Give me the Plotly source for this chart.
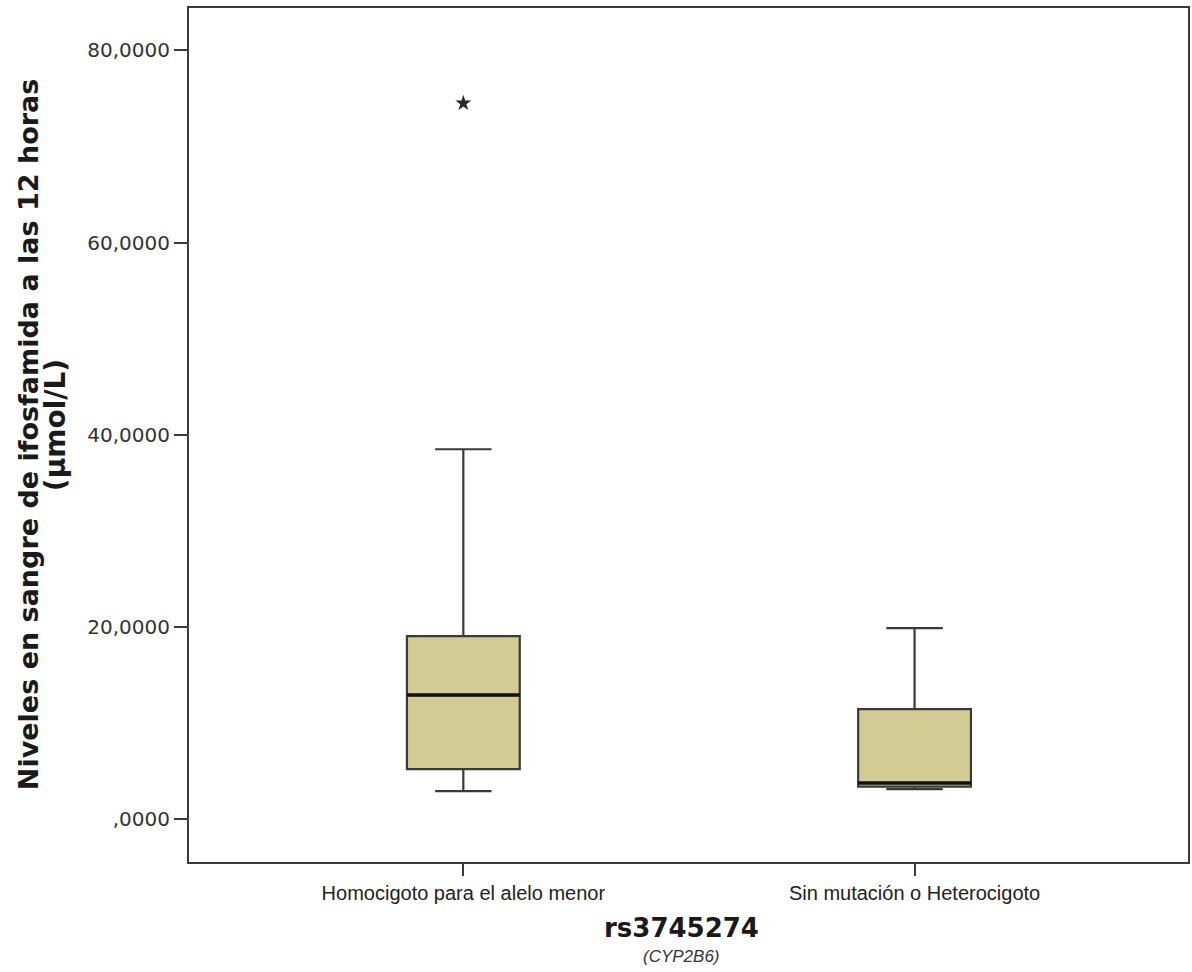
import plotly.graph_objects as go

# Grupos genotípicos (rs3745274, CYP2B6)
categorias = ["Homocigoto para el alelo menor", "Sin mutación o Heterocigoto"]
posiciones = [0, 1]

# Estadísticos de caja: niveles de ifosfamida a las 12 h (µmol/L)
bigote_inf = [2.94, 3.15]
q1 = [5.23, 3.41]
mediana = [12.93, 3.78]
q3 = [19.06, 11.47]
bigote_sup = [38.5, 19.88]

# Valor extremo (marcado con asterisco)
extremo_x = [0]
extremo_y = [74.5]

ticks_y = [0, 20, 40, 60, 80]
etiquetas_y = [",0000", "20,0000", "40,0000", "60,0000", "80,0000"]

ancho_caja = 0.25
gris = "#3a3a3a"

fig = go.Figure()

fig.add_trace(go.Box(
    x=posiciones,
    q1=q1, median=mediana, q3=q3,
    lowerfence=bigote_inf, upperfence=bigote_sup,
    width=ancho_caja,
    whiskerwidth=0.5,
    fillcolor="#D2CC94",
    line=dict(color=gris, width=2.2),
    boxpoints=False,
    hoverinfo="skip",
    showlegend=False,
))

# Línea de la mediana más gruesa, sobre cada caja
mx, my = [], []
for p, m in zip(posiciones, mediana):
    mx += [p - ancho_caja / 2, p + ancho_caja / 2, None]
    my += [m, m, None]
fig.add_trace(go.Scatter(
    x=mx, y=my, mode="lines",
    line=dict(color="#111111", width=3.5),
    hoverinfo="skip", showlegend=False,
))

fig.add_trace(go.Scatter(
    x=extremo_x, y=extremo_y, mode="markers",
    marker=dict(symbol="star", size=12, color="#2a2a2a"),
    hoverinfo="skip", showlegend=False,
))

fig.update_layout(
    width=1192, height=972,
    margin=dict(l=189, r=2, t=8, b=110),
    paper_bgcolor="white", plot_bgcolor="white",
    xaxis=dict(
        range=[-0.608, 1.606],
        tickmode="array", tickvals=posiciones, ticktext=categorias,
        showgrid=False, zeroline=False,
        showline=True, mirror=True, linecolor=gris, linewidth=2,
        ticks="outside", ticklen=12, tickwidth=2, tickcolor=gris,
        tickfont=dict(family="Liberation Sans Narrow, Liberation Sans, Arial", size=20, color="#222222"),
    ),
    yaxis=dict(
        range=[-4.44, 84.4],
        tickmode="array", tickvals=ticks_y, ticktext=etiquetas_y,
        showgrid=False, zeroline=False,
        showline=True, mirror=True, linecolor=gris, linewidth=2,
        ticks="outside", ticklen=13, tickwidth=2, tickcolor=gris,
        tickfont=dict(family="DejaVu Sans", size=20, color="#333333"),
    ),
    annotations=[
        dict(text="<b>Niveles en sangre de ifosfamida a las 12 horas</b>",
             xref="paper", yref="paper", x=-0.161, y=0.5,
             xanchor="center", yanchor="middle", textangle=-90, showarrow=False,
             font=dict(family="DejaVu Sans", size=27, color="#1a1a1a")),
        dict(text="<b>(µmol/L)</b>",
             xref="paper", yref="paper", x=-0.134, y=0.5117,
             xanchor="center", yanchor="middle", textangle=-90, showarrow=False,
             font=dict(family="DejaVu Sans", size=28, color="#1a1a1a")),
        dict(text="<b>rs3745274</b>",
             xref="paper", yref="paper", x=0.4925, y=-0.0773,
             xanchor="center", yanchor="middle", showarrow=False,
             font=dict(family="DejaVu Sans", size=26, color="#1a1a1a")),
        dict(text="<i>(CYP2B6)</i>",
             xref="paper", yref="paper", x=0.4925, y=-0.1112,
             xanchor="center", yanchor="middle", showarrow=False,
             font=dict(family="Liberation Sans", size=17, color="#333333")),
    ],
)

fig.write_html("out.html")
